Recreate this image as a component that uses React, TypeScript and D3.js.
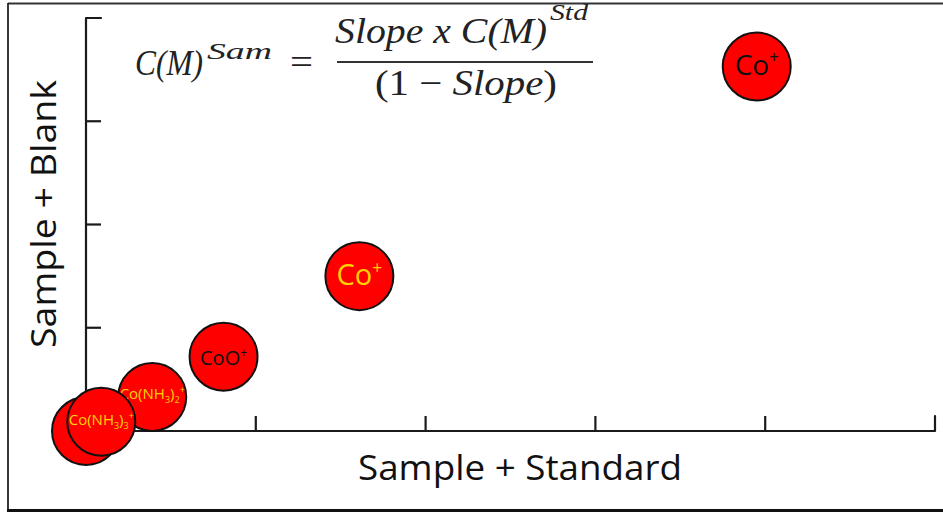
import React from "react";
import * as d3 from "d3";

// ---- data ----
const labels = ["Co(NH3)2+", "", "Co(NH3)3+", "CoO+", "Co+", "Co+"];
const xValues = [0.39, 0.0, 0.09, 0.81, 1.61, 3.95];
const yValues = [0.33, 0.0, 0.09, 0.72, 1.5, 3.53];
const xTicks = [1, 2, 3, 4, 5];
const yTicks = [1, 2, 3, 4];
const xTitle = "Sample + Standard";
const yTitle = "Sample + Blank";

// ---- styles (per point) ----
const labelStyles = [
  { color: "#ffd200", size: 15, dy: 2 },
  { color: "#ffd200", size: 15, dy: 2 },
  { color: "#ffd200", size: 15, dy: 3 },
  { color: "#111", size: 20, dy: 8 },
  { color: "#ffd200", size: 29, dy: 9 },
  { color: "#111", size: 28, dy: 8 },
];

const W = 943;
const H = 514;
const x0 = 86, x1 = 935, y0 = 431, y1 = 18;

function Label({ text, cx, cy, st }: { text: string; cx: number; cy: number; st: any }) {
  if (!text) return null;
  const parts: { t: string; k: "n" | "sub" | "sup" }[] = [];
  for (const ch of text) {
    const k = /[0-9]/.test(ch) ? "sub" : ch === "+" ? "sup" : "n";
    const last = parts[parts.length - 1];
    if (last && last.k === k) last.t += ch;
    else parts.push({ t: ch, k });
  }
  const small = st.size * 0.6;
  let shift = 0;
  return (
    <text
      x={cx}
      y={cy + st.dy}
      textAnchor="middle"
      fill={st.color}
      fontFamily="'Open Sans', 'Noto Sans', sans-serif"
      fontSize={st.size}
    >
      {parts.map((p, i) => {
        let target = 0;
        if (p.k === "sub") target = st.size * 0.3;
        if (p.k === "sup") target = -st.size * 0.4;
        const dy = target - shift;
        shift = target;
        return (
          <tspan key={i} dy={dy} fontSize={p.k === "n" ? st.size : small}>
            {p.t}
          </tspan>
        );
      })}
    </text>
  );
}

export default function App() {
  const xs = d3.scaleLinear().domain([0, 5]).range([x0, x1]);
  const ys = d3.scaleLinear().domain([0, 4]).range([y0, y1]);
  const tick = 15;
  const axisColor = "#1a1a1a";

  const axisPath = d3.path();
  axisPath.moveTo(xs(0) + tick, ys(4));
  axisPath.lineTo(xs(0), ys(4));
  axisPath.lineTo(xs(0), ys(0));
  axisPath.lineTo(xs(5), ys(0));
  axisPath.lineTo(xs(5), ys(0) - tick);

  const mathFont = "'Liberation Serif', 'DejaVu Serif', serif";

  return (
    <svg
      width={W}
      height={H}
      style={{ position: "absolute", left: 0, top: 0, background: "#fff" }}
    >
      {/* frame */}
      <line x1={8} y1={3.5} x2={W} y2={3.5} stroke="#333" strokeWidth={1.8} />
      <line x1={8} y1={3} x2={8} y2={511} stroke="#222" strokeWidth={1.8} />
      <line x1={7} y1={510.5} x2={W} y2={510.5} stroke="#111" strokeWidth={3} />

      {/* axes */}
      <path
        d={axisPath.toString()}
        fill="none"
        stroke={axisColor}
        strokeWidth={2.2}
        strokeLinejoin="round"
        strokeLinecap="round"
      />
      {xTicks.slice(0, -1).map((t) => (
        <line key={"xt" + t} x1={xs(t)} x2={xs(t)} y1={ys(0)} y2={ys(0) - tick} stroke={axisColor} strokeWidth={2.2} />
      ))}
      {yTicks.slice(0, -1).map((t) => (
        <line key={"yt" + t} x1={xs(0)} x2={xs(0) + tick} y1={ys(t)} y2={ys(t)} stroke={axisColor} strokeWidth={2.2} />
      ))}

      {/* axis titles */}
      <text
        x={520}
        y={480}
        textAnchor="middle"
        fontFamily="'Open Sans', 'Noto Sans', sans-serif"
        fontSize={35}
        fill="#111"
        textLength={324}
        lengthAdjust="spacingAndGlyphs"
      >
        {xTitle}
      </text>
      <text
        transform={`translate(56,214) rotate(-90)`}
        textAnchor="middle"
        fontFamily="'Open Sans', 'Noto Sans', sans-serif"
        fontSize={35}
        fill="#111"
        textLength={268}
        lengthAdjust="spacingAndGlyphs"
      >
        {yTitle}
      </text>

      {/* formula */}
      <g fill="#222" fontFamily={mathFont} fontSize={35}>
        <text x={135} y={75} fontStyle="italic" textLength={68} lengthAdjust="spacingAndGlyphs">
          C(M)
        </text>
        <text x={207} y={59} fontStyle="italic" fontSize={23} textLength={65} lengthAdjust="spacingAndGlyphs">
          Sam
        </text>
        <text x={290} y={74} textLength={23} lengthAdjust="spacingAndGlyphs">
          =
        </text>
        <text x={335} y={43} fontStyle="italic" textLength={212} lengthAdjust="spacingAndGlyphs">
          Slope x C(M)
        </text>
        <text x={550} y={20} fontStyle="italic" fontSize={23} textLength={38} lengthAdjust="spacingAndGlyphs">
          Std
        </text>
        <line x1={337} x2={593} y1={62} y2={62} stroke="#333" strokeWidth={2} />
        <text x={375} y={95} textLength={182} lengthAdjust="spacingAndGlyphs">
          <tspan>(1 − </tspan>
          <tspan fontStyle="italic">Slope</tspan>
          <tspan>)</tspan>
        </text>
      </g>

      {/* points */}
      {xValues.map((v, i) => (
        <g key={i}>
          <circle cx={xs(v)} cy={ys(yValues[i])} r={34} fill="#ff0000" stroke="#111" strokeWidth={2} />
          <Label text={labels[i]} cx={xs(v)} cy={ys(yValues[i])} st={labelStyles[i]} />
        </g>
      ))}
    </svg>
  );
}
